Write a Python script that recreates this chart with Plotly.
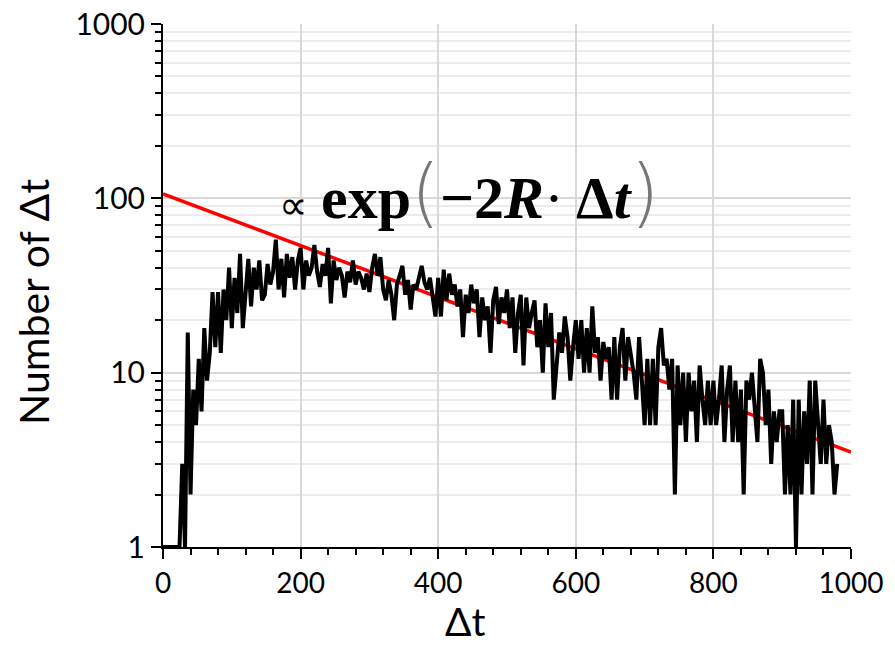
import numpy as np
import plotly.graph_objects as go

# Histogram of Δt (bin width 4), counts
bin_width = 4
counts = [
    # 0-96
    1, 1, 1, 1, 1, 1, 1, 3, 1, 17, 2, 8, 5, 12, 6, 18, 9, 13, 29, 14, 29, 13, 30, 20, 40,
    # 100-196
    18, 35, 22, 48, 18, 30, 45, 24, 40, 30, 44, 26, 28, 42, 32, 38, 58, 30, 45, 27, 48, 35, 46, 30, 44,
    # 200-296
    52, 30, 44, 36, 40, 54, 38, 31, 42, 36, 52, 25, 44, 34, 40, 36, 27, 38, 33, 44, 32, 38, 35, 30, 37,
    # 300-396
    29, 40, 48, 36, 46, 30, 26, 34, 28, 20, 32, 36, 41, 28, 34, 23, 32, 30, 36, 41, 33, 30, 35, 28, 21,
    # 400-496
    35, 21, 39, 26, 37, 28, 32, 24, 30, 16, 28, 22, 32, 25, 30, 16, 27, 20, 24, 13, 26, 31, 19, 27, 22,
    # 500-596
    30, 18, 27, 13, 22, 28, 11, 27, 18, 22, 26, 14, 20, 10, 25, 14, 22, 7, 11, 17, 13, 21, 16, 9, 14,
    # 600-696
    20, 12, 20, 10, 18, 10, 24, 13, 16, 9, 15, 12, 14, 7, 16, 7, 14, 18, 9, 16, 13, 10, 7, 16, 9,
    # 700-796
    5, 12, 5, 12, 5, 14, 18, 11, 12, 8, 12, 2, 11, 5, 10, 4, 10, 6, 9, 4, 11, 7, 5, 9, 5,
    # 800-896
    9, 5, 7, 11, 4, 8, 11, 4, 9, 4, 8, 2, 9, 7, 10, 6, 4, 12, 10, 5, 8, 3, 6, 4, 6,
    # 900-980
    6, 2, 5, 2, 7, 1, 7, 2, 6, 3, 9, 2, 9, 5, 3, 7, 3, 5, 4, 2, 3,
]
dt = [i * bin_width for i in range(len(counts))]

# exponential fit  ∝ exp(-2R·Δt)
fit_amplitude = 106.0
fit_rate = 3.41e-3
fit_x = [0, 1000]
fit_y = [fit_amplitude * np.exp(-fit_rate * x) for x in fit_x]

x_tick_vals = [0, 200, 400, 600, 800, 1000]
y_tick_vals = [1, 10, 100, 1000]
y_tick_text = ["1", "10", "100", "1000"]
y_minor_vals = [m * d for d in (1, 10, 100) for m in range(2, 10)]

x_title = "Δt"
y_title = "Number of Δt"

fig = go.Figure()
fig.add_trace(go.Scatter(x=fit_x, y=fit_y, mode="lines",
                         line=dict(color="#ff0000", width=3.5), showlegend=False))
fig.add_trace(go.Scatter(x=dt, y=counts, mode="lines",
                         line=dict(color="#000000", width=4), showlegend=False))

# pixel -> paper helpers for text placement
PL, PW = 163.0, 688.0   # plot-area left / width in px
PB, PH = 547.0, 523.0   # plot-area bottom / height in px
def px(xp):
    return (xp - PL) / PW
def py(yp):
    return (PB - yp) / PH

paren = '<span style="font-family:\'DejaVu Sans\';font-size:74px;font-weight:200;fill:#777">{}</span>'
fig.add_annotation(x=px(278), y=py(205), xref="paper", yref="paper",
                   xanchor="left", yanchor="middle", showarrow=False, borderpad=0,
                   text="∝", font=dict(family="Liberation Serif", size=40, color="black"))
fig.add_annotation(x=px(320), y=py(192), xref="paper", yref="paper",
                   xanchor="left", yanchor="middle", showarrow=False, borderpad=0,
                   text=('<b>exp</b>' + paren.format("(") +
                         '<b>−2<i>R</i></b>·\u2009<b>Δ<i>t</i></b>' + paren.format(")")),
                   font=dict(family="Liberation Serif", size=60, color="black"))

# axis titles
fig.add_annotation(x=px(465), y=py(621), xref="paper", yref="paper",
                   xanchor="center", yanchor="middle", showarrow=False, borderpad=0,
                   text=x_title, font=dict(family="Lato", size=39, color="black"))
fig.add_annotation(x=px(34), y=py(302), xref="paper", yref="paper",
                   xanchor="center", yanchor="middle", showarrow=False, textangle=-90,
                   text=y_title, font=dict(family="Lato", size=41, color="black"))

fig.update_layout(
    width=895, height=649,
    margin=dict(l=163, r=44, t=24, b=102),
    paper_bgcolor="white", plot_bgcolor="white",
    font=dict(family="Lato", color="black"),
)
fig.update_xaxes(
    range=[0, 1000], tickvals=x_tick_vals, automargin=False,
    showline=True, linecolor="black", linewidth=2,
    ticks="outside", ticklen=10, tickwidth=2, tickcolor="black",
    tickfont=dict(size=28, family="Lato"), ticklabeloverflow="allow",
    showgrid=True, gridcolor="#d9d9d9", gridwidth=1.5,
    minor=dict(dtick=40, ticks="outside", ticklen=6, tickwidth=2, tickcolor="black", showgrid=False),
    zeroline=False,
)
fig.update_yaxes(
    type="log", range=[0, 3], tickvals=y_tick_vals, ticktext=y_tick_text, automargin=False,
    showline=True, linecolor="black", linewidth=2,
    ticks="outside", ticklen=10, tickwidth=2, tickcolor="black",
    tickfont=dict(size=30, family="Lato"), ticklabeloverflow="allow",
    showgrid=True, gridcolor="#d9d9d9", gridwidth=1.5,
    minor=dict(tickvals=y_minor_vals, ticks="outside", ticklen=6, tickwidth=1.5, tickcolor="black",
               showgrid=True, gridcolor="#ececec", gridwidth=1.5),
    zeroline=False,
)

fig.write_html("out.html", config={"displayModeBar": False},
               post_script="document.body.style.margin='0px';")
